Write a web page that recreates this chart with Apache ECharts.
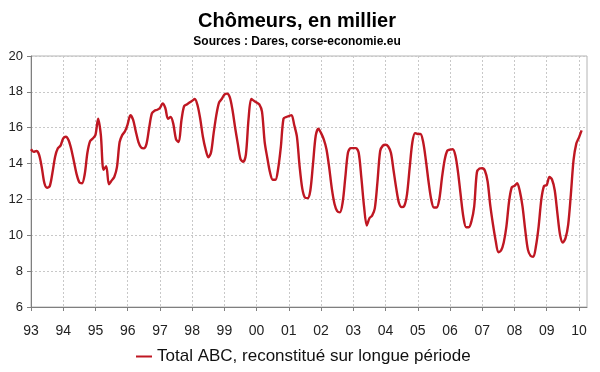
<!DOCTYPE html>
<html>
<head>
<meta charset="utf-8">
<script src="https://cdn.jsdelivr.net/npm/echarts@6/dist/echarts.min.js"></script>
<style>
html,body{margin:0;padding:0;background:#fff;}
#chart{width:600px;height:372px;}
</style>
</head>
<body>
<div id="chart"></div>
<script>
// Monthly values (thousands), Jan 1993 .. Feb 2010
const values = [
  14.8, 14.65, 14.7, 14.5, 13.8, 12.9, 12.65, 12.75, 13.5, 14.4, 14.85, 15.0,      // 1993
  15.4, 15.5, 15.3, 14.8, 14.1, 13.4, 12.95, 12.9, 13.4, 14.6, 15.25, 15.4,        // 1994
  15.6, 16.5, 15.6, 13.65, 13.85, 12.85, 13.05, 13.25, 13.8, 15.2, 15.6, 15.8,     // 1995
  16.2, 16.7, 16.45, 15.8, 15.2, 14.9, 14.85, 15.1, 16.0, 16.8, 16.95, 17.0,       // 1996
  17.1, 17.35, 17.1, 16.5, 16.6, 16.2, 15.35, 15.2, 16.4, 17.2, 17.3, 17.4,        // 1997
  17.5, 17.6, 17.25, 16.5, 15.5, 14.8, 14.35, 14.6, 15.7, 16.7, 17.4, 17.6,        // 1998
  17.85, 17.9, 17.7, 17.0, 16.0, 15.1, 14.25, 14.1, 14.5, 16.5, 17.6, 17.5,        // 1999
  17.4, 17.3, 16.9, 15.2, 14.3, 13.5, 13.1, 13.1, 13.7, 14.9, 16.5, 16.6,          // 2000
  16.65, 16.7, 16.15, 15.5, 13.85, 12.6, 12.1, 12.07, 12.5, 14.0, 15.55, 15.95,    // 2001
  15.7, 15.35, 14.8, 13.8, 12.6, 11.75, 11.35, 11.28, 11.8, 13.2, 14.6, 14.86,     // 2002
  14.86, 14.86, 14.6, 13.2, 11.6, 10.55, 10.95, 11.1, 11.5, 13.0, 14.7, 15.0,      // 2003
  15.05, 14.95, 14.6, 13.6, 12.6, 11.8, 11.57, 11.65, 12.3, 13.8, 15.2, 15.7,      // 2004
  15.65, 15.65, 15.2, 14.2, 13.0, 12.0, 11.55, 11.55, 12.0, 13.2, 14.2, 14.72,     // 2005
  14.78, 14.8, 14.45, 13.5, 12.2, 11.0, 10.45, 10.45, 10.8, 11.6, 13.5, 13.72,     // 2006
  13.74, 13.6, 13.0, 11.65, 10.6, 9.7, 9.05, 9.15, 9.6, 10.5, 11.9, 12.68,         // 2007
  12.75, 12.9, 12.45, 11.6, 10.3, 9.2, 8.85, 8.8, 9.4, 10.5, 12.0, 12.75,          // 2008
  12.8, 13.25, 13.1, 12.5, 11.2, 10.0, 9.6, 9.84, 10.6, 12.3, 14.2, 15.1,          // 2009
  15.45, 15.85                                                                     // 2010
];
const startYear = 1993;
const yearLabels = ['93','94','95','96','97','98','99','00','01','02','03','04','05','06','07','08','09','10'];
const monthCount = 208; // Jan 1993 .. Apr 2010 (axis extent)
const yMin = 6, yMax = 20, yStep = 2;
const seriesName = 'Total ABC, reconstitué sur longue période';
const titleText = 'Chômeurs, en millier';
const subtitleText = 'Sources : Dares, corse-economie.eu';

const categories = [];
for (let i = 0; i < monthCount; i++) {
  const y = startYear + Math.floor(i / 12);
  const m = (i % 12) + 1;
  categories.push(y + '-' + (m < 10 ? '0' + m : m));
}

const FONT = '"Liberation Sans", Arial, sans-serif';
const chart = echarts.init(document.getElementById('chart'), null, {renderer: 'canvas'});
chart.setOption({
  animation: false,
  backgroundColor: '#fff',
  title: {
    text: titleText,
    subtext: subtitleText,
    left: 292, top: 6, textAlign: 'center',
    itemGap: 5,
    textStyle: {fontFamily: FONT, fontSize: 20, fontWeight: 'bold', color: '#000'},
    subtextStyle: {fontFamily: FONT, fontSize: 12, fontWeight: 'bold', color: '#000'}
  },
  legend: {
    data: [seriesName],
    left: 131, top: 343,
    icon: 'rect', itemWidth: 16, itemHeight: 2, itemGap: 5,
    textStyle: {fontFamily: FONT, fontSize: 17, color: '#111'}
  },
  grid: {left: 31, right: 13, top: 56, bottom: 65, show: true, borderColor: '#b4b4b4', borderWidth: 1},
  xAxis: {
    type: 'category',
    data: categories,
    boundaryGap: false,
    axisLine: {lineStyle: {color: '#7f7f7f', width: 1}},
    axisTick: {interval: 11, length: 4, lineStyle: {color: '#7f7f7f'}},
    axisLabel: {
      interval: 11, margin: 17, fontFamily: FONT, fontSize: 14, color: '#222',
      formatter: (v, idx) => yearLabels[Math.round(idx / 12)]
    },
    splitLine: {show: true, interval: 11, lineStyle: {color: '#c8c8c8', type: [2, 2]}}
  },
  yAxis: {
    type: 'value', min: yMin, max: yMax, interval: yStep,
    axisLine: {show: true, lineStyle: {color: '#7f7f7f', width: 1}},
    axisTick: {show: true, length: 4, lineStyle: {color: '#7f7f7f'}},
    axisLabel: {margin: 8, fontFamily: FONT, fontSize: 13, color: '#222'},
    splitLine: {show: true, lineStyle: {color: '#c8c8c8', type: [2, 2]}}
  },
  series: [{
    name: seriesName,
    type: 'line',
    data: values,
    showSymbol: false,
    symbol: 'none',
    smooth: 0.3,
    lineStyle: {color: '#bf1722', width: 2.4},
    itemStyle: {color: '#bf1722'}
  }]
});
</script>
</body>
</html>
